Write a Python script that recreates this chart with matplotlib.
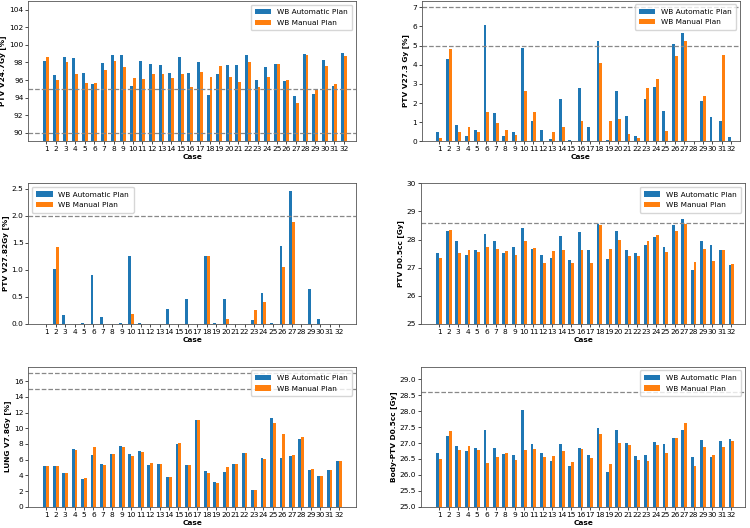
import numpy as np
import matplotlib
matplotlib.use("Agg")
import matplotlib.pyplot as plt

W, H = 750, 528
FS = 5.3

cases = list(range(1, 33))

# PTV V24.7Gy [%]
v247_auto = [98.2, 96.6, 98.6, 98.5, 96.8, 95.6, 97.9, 98.8, 98.8, 95.3, 98.2, 97.8, 97.7, 96.8, 98.6, 96.8,
             98.0, 94.3, 96.7, 97.7, 97.7, 98.8, 96.0, 97.5, 97.8, 95.9, 94.2, 99.0, 94.4, 98.3, 95.3, 99.1]
v247_manual = [98.6, 96.0, 98.1, 96.7, 95.7, 95.7, 97.1, 98.2, 97.5, 96.2, 96.1, 96.7, 96.7, 96.2, 96.7, 95.2,
               96.9, 96.3, 97.6, 96.3, 95.8, 98.1, 95.2, 96.3, 97.8, 96.0, 93.4, 98.9, 95.0, 97.6, 95.6, 98.7]

# PTV V27.3 Gy [%]
v273_auto = [0.47, 4.30, 0.85, 0.28, 0.61, 6.05, 1.46, 0.30, 0.49, 4.88, 1.08, 0.57, 0.14, 2.21, 0.05, 2.77,
             0.75, 5.23, 0.08, 2.61, 1.32, 0.26, 2.21, 2.82, 1.59, 5.10, 5.64, 0.0, 2.09, 1.25, 1.05, 0.23]
v273_manual = [0.17, 4.83, 0.47, 0.75, 0.47, 1.53, 0.96, 0.59, 0.33, 2.61, 1.53, 0.0, 0.50, 0.75, 0.0, 1.05,
               0.0, 4.08, 1.08, 1.18, 0.40, 0.19, 2.77, 3.24, 0.54, 4.46, 5.26, 0.03, 2.39, 0.0, 4.49, 0.0]

# PTV V27.82Gy [%]
v2782_auto = [0.0, 1.01, 0.17, 0.0, 0.01, 0.91, 0.13, 0.0, 0.01, 1.26, 0.01, 0.0, 0.0, 0.27, 0.0, 0.46,
              0.0, 1.25, 0.01, 0.46, 0.0, 0.0, 0.07, 0.57, 0.01, 1.45, 2.45, 0.0, 0.64, 0.09, 0.0, 0.0]
v2782_manual = [0.0, 1.42, 0.0, 0.0, 0.0, 0.0, 0.0, 0.0, 0.0, 0.18, 0.0, 0.0, 0.0, 0.0, 0.0, 0.0,
                0.0, 1.26, 0.0, 0.09, 0.0, 0.0, 0.25, 0.40, 0.0, 1.05, 1.88, 0.0, 0.0, 0.0, 0.0, 0.0]

# PTV D0.5cc [Gy]
d05_auto = [27.52, 28.30, 27.96, 27.44, 27.64, 28.20, 27.96, 27.52, 27.74, 28.42, 27.68, 27.44, 27.36, 28.12, 27.28, 28.27,
            27.63, 28.57, 27.31, 28.32, 27.63, 27.54, 27.82, 28.09, 27.73, 28.52, 28.73, 26.93, 27.95, 27.80, 27.63, 27.10]
d05_manual = [27.35, 28.34, 27.52, 27.62, 27.55, 27.75, 27.67, 27.60, 27.44, 27.95, 27.69, 27.15, 27.60, 27.62, 27.16, 27.63,
              27.16, 28.51, 27.68, 28.00, 27.43, 27.43, 27.94, 28.16, 27.57, 28.31, 28.55, 27.22, 27.67, 27.25, 27.63, 27.13]

# LUNG V7.8Gy [%]
lung_auto = [5.17, 5.25, 4.28, 7.33, 3.56, 6.65, 5.50, 6.69, 7.71, 6.78, 7.08, 5.38, 5.50, 3.81, 7.97, 5.34,
             11.1, 4.58, 3.09, 4.41, 5.42, 6.90, 2.16, 6.23, 11.27, 6.19, 6.44, 8.60, 4.66, 3.94, 4.62, 5.85]
lung_manual = [5.13, 5.20, 4.28, 7.20, 3.64, 7.58, 5.38, 6.78, 7.67, 6.48, 6.95, 5.55, 5.47, 3.81, 8.14, 5.30,
               11.1, 4.36, 3.05, 5.00, 5.42, 6.86, 2.16, 6.14, 10.72, 9.32, 6.61, 8.86, 4.75, 3.90, 4.62, 5.89]

# Body-PTV D0.5cc [Gy]
body_auto = [26.68, 27.23, 26.90, 26.74, 26.86, 27.41, 26.83, 26.65, 26.62, 28.03, 26.96, 26.69, 26.45, 26.96, 26.28, 26.85,
             26.64, 27.46, 26.10, 27.41, 27.00, 26.59, 26.63, 27.04, 26.98, 27.16, 27.42, 26.55, 27.09, 26.55, 27.07, 27.13]
body_manual = [26.50, 27.37, 26.78, 26.92, 26.79, 26.38, 26.57, 26.68, 26.47, 26.79, 26.81, 26.56, 26.58, 26.76, 26.39, 26.80,
               26.53, 27.27, 26.34, 26.99, 26.94, 26.46, 26.45, 26.93, 26.70, 27.16, 27.62, 26.27, 26.87, 26.61, 26.87, 27.07]

BAR_W = 0.3
DASH = dict(color="#888888", linestyle="--", linewidth=0.9)


def rect(left, top, right, bottom):
    # pixel box -> figure fraction
    return [left / W, 1 - bottom / H, (right - left) / W, (bottom - top) / H]


def draw_panel(ax, auto, manual, ylabel, ylim, hlines, xlim, loc="upper right"):
    x = np.array(cases)
    ax.bar(x - BAR_W / 2, auto, BAR_W, color="tab:blue", label="WB Automatic Plan")
    ax.bar(x + BAR_W / 2, manual, BAR_W, color="tab:orange", label="WB Manual Plan")
    for h in hlines:
        ax.axhline(h, **DASH)
    ax.set_xticks(x)
    ax.set_xticklabels([str(c) for c in cases])
    ax.set_xlim(*xlim)
    ax.set_ylim(*ylim)
    ax.set_xlabel("Case", fontsize=FS, fontweight="bold", labelpad=1.5)
    ax.set_ylabel(ylabel, fontsize=FS, fontweight="bold", labelpad=2)
    ax.tick_params(labelsize=FS, length=2, width=0.5, pad=1.5)
    for s in ax.spines.values():
        s.set_linewidth(0.6)
        s.set_color("#555555")
    ax.legend(loc=loc, fontsize=FS, handlelength=2.2, borderpad=0.6, labelspacing=0.6)


fig = plt.figure(figsize=(W / 100, H / 100), dpi=100)

ax1 = fig.add_axes(rect(28.3, 1.2, 356, 141.3))
draw_panel(ax1, v247_auto, v247_manual, "PTV V24.7Gy [%]", (89, 105), [95, 90], (-0.875, 33.25))
ax1.set_yticks(range(90, 105, 2))

ax2 = fig.add_axes(rect(421.7, 0.6, 740, 141.3))
draw_panel(ax2, v273_auto, v273_manual, "PTV V27.3 Gy [%]", (0, 7.35), [7, 5], (-0.87, 32.93))

ax3 = fig.add_axes(rect(28.3, 183.3, 356, 324))
draw_panel(ax3, v2782_auto, v2782_manual, "PTV V27.82Gy [%]", (0, 2.6), [2.0], (-0.9, 33.8), loc="upper left")

ax4 = fig.add_axes(rect(421, 183.3, 745, 324))
draw_panel(ax4, d05_auto, d05_manual, "PTV D0.5cc [Gy]", (25, 30), [28.6], (-0.94, 33.45))

ax5 = fig.add_axes(rect(28.3, 366.7, 356, 506.7))
draw_panel(ax5, lung_auto, lung_manual, "LUNG V7.8Gy [%]", (0, 17.85), [17, 15], (-0.9, 33.8))

ax6 = fig.add_axes(rect(421, 366.7, 745, 506.7))
draw_panel(ax6, body_auto, body_manual, "Body-PTV D0.5cc [Gy]", (25, 29.4), [28.6], (-0.94, 33.45))

fig.savefig("out.png", dpi=100)
